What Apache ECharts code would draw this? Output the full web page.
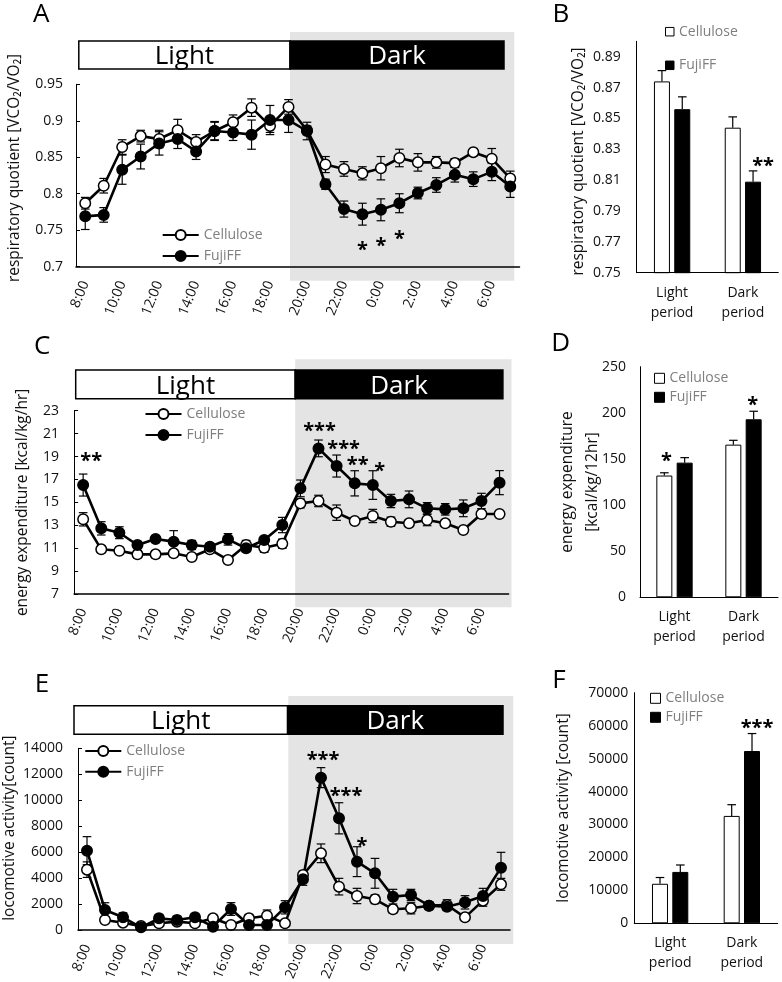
<!DOCTYPE html>
<html>
<head>
<meta charset="utf-8">
<script src="https://cdn.jsdelivr.net/npm/echarts@6/dist/echarts.min.js"></script>
<style>html,body{margin:0;padding:0;background:#fff}#c{width:782px;height:982px}</style>
</head>
<body>
<div id="c"></div>
<script>
// ---------------- data ----------------
const hours = ['8:00','9:00','10:00','11:00','12:00','13:00','14:00','15:00','16:00','17:00','18:00','19:00','20:00','21:00','22:00','23:00','0:00','1:00','2:00','3:00','4:00','5:00','6:00','7:00'];
const periods = ['Light\nperiod','Dark\nperiod'];
const groupNames = ['Cellulose','FujiFF'];

// A: respiratory quotient (hourly)
const rqCellulose    = [0.787,0.811,0.864,0.879,0.875,0.887,0.871,0.886,0.898,0.918,0.893,0.919,0.887,0.840,0.834,0.828,0.835,0.849,0.843,0.843,0.842,0.857,0.848,0.821];
const rqCelluloseErr = [0.008,0.010,0.010,0.008,0.012,0.015,0.010,0.012,0.010,0.012,0.009,0.010,0.006,0.011,0.010,0.009,0.016,0.012,0.012,0.008,0.006,0.005,0.014,0.010];
const rqFuji         = [0.769,0.771,0.833,0.851,0.869,0.875,0.858,0.886,0.884,0.881,0.901,0.901,0.886,0.813,0.779,0.772,0.778,0.787,0.801,0.812,0.826,0.820,0.830,0.810];
const rqFujiErr      = [0.018,0.010,0.020,0.017,0.016,0.013,0.011,0.013,0.011,0.020,0.020,0.017,0.012,0.007,0.011,0.015,0.015,0.013,0.008,0.010,0.010,0.010,0.012,0.015];
const rqStars = [{i:15, v:0.730, t:'*'}, {i:16, v:0.735, t:'*'}, {i:17, v:0.744, t:'*'}];

// B: respiratory quotient (period)
const rqPeriodCellulose    = [0.874, 0.844];
const rqPeriodCelluloseErr = [0.007, 0.007];
const rqPeriodFuji         = [0.856, 0.809];
const rqPeriodFujiErr      = [0.008, 0.007];
const rqPeriodStars = [{i:1, v:0.822, t:'**', s:1}];

// C: energy expenditure (hourly)
const eeCellulose    = [13.52,10.90,10.78,10.46,10.46,10.55,10.23,10.90,9.97,11.28,11.04,11.39,14.91,15.12,14.10,13.37,13.81,13.31,13.17,13.46,13.17,12.59,13.98,13.98];
const eeCelluloseErr = [0.58,0.30,0.30,0.30,0.30,0.30,0.30,0.30,0.30,0.40,0.40,0.40,0.40,0.50,0.67,0.30,0.58,0.40,0.30,0.50,0.30,0.30,0.30,0.30];
const eeFuji         = [16.51,12.73,12.35,11.28,11.80,11.57,11.28,11.13,11.77,10.99,11.71,13.02,16.22,19.71,18.17,16.66,16.51,15.12,15.26,14.48,14.39,14.48,15.12,16.72];
const eeFujiErr      = [0.96,0.58,0.52,0.30,0.30,0.96,0.40,0.30,0.50,0.30,0.30,0.67,0.73,0.73,0.96,1.10,1.25,0.58,0.73,0.50,0.50,0.73,0.67,1.05];
const eeStars = [{i:0, v:18.98, t:'**'}, {i:13, v:21.66, t:'***'}, {i:14, v:20.09, t:'***'}, {i:15, v:18.63, t:'**'}, {i:16, v:18.17, t:'*'}];

// D: energy expenditure (period)
const eePeriodCellulose    = [132, 165.5];
const eePeriodCelluloseErr = [3, 4.7];
const eePeriodFuji         = [146, 193];
const eePeriodFujiErr      = [5.4, 8.7];
const eePeriodStars = [{i:0, v:152.4, t:'*', s:0}, {i:1, v:213.9, t:'*', s:1}];

// E: locomotive activity (hourly)
const laCellulose    = [4650,771,565,300,514,642,514,899,385,899,1104,514,4239,5909,3340,2620,2363,1593,1670,1875,1927,976,2261,3520];
const laCelluloseErr = [600,250,200,150,200,200,200,250,200,300,440,200,300,720,640,590,335,300,430,200,400,200,430,460];
const laFuji         = [6112,1541,977,206,899,771,977,257,1618,385,385,1747,3905,11740,8606,5266,4367,2569,2697,1875,1798,2132,2620,4804];
const laFujiErr      = [1080,560,350,150,300,300,300,150,490,150,200,510,460,770,1200,1150,1150,565,437,300,300,514,590,1180];
const laStars = [{i:13, v:13487, t:'***'}, {i:14, v:10659, t:'***'}, {i:15, v:6805, t:'*'}];

// F: locomotive activity (period)
const laPeriodCellulose    = [12000, 32600];
const laPeriodCelluloseErr = [1900, 3400];
const laPeriodFuji         = [15600, 52300];
const laPeriodFujiErr      = [2100, 5300];
const laPeriodStars = [{i:1, v:60700, t:'***', s:1}];

// --------------- layout / style ---------------
const FONT = "'Open Sans','Noto Sans',sans-serif";
const grids = [
  {left:76,    top:84.3,  width:443.5, height:182.4}, // A
  {left:636.7, top:41.3,  width:141.6, height:231.4}, // B
  {left:74.1,  top:410.7, width:434.5, height:183.3}, // C
  {left:640,   top:366.7, width:138,   height:230.6}, // D
  {left:78,    top:748.3, width:432,   height:181.7}, // E
  {left:634.3, top:692.7, width:143.4, height:230.6}  // F
];
// small horizontal nudges for significance marks (px)
const starNudgeA = [0,0,0];
const starNudgeC = [8,1,7,3,7];
const starNudgeE = [2,7,5];
const starNudgeB = [10];
const starNudgeD = [2,-1];
const starNudgeF = [5];
const BAR_W = 16, BAR_GAP = 0.27;
const barOff = BAR_W/2 + BAR_W*BAR_GAP/2;
const plainNum = v => String(+(+v).toFixed(4));

function hourAxis(g){
  return {gridIndex:g, type:'category', data:hours, boundaryGap:true,
    axisLine:{show:true, onZero:false, lineStyle:{color:'#000', width:1.5}},
    axisTick:{show:false}, splitLine:{show:false},
    axisLabel:{interval:1, rotate:68, fontSize:14, fontFamily:FONT, color:'#111', margin:15}};
}
function periodAxis(g){
  return {gridIndex:g, type:'category', data:periods,
    axisLine:{show:true, onZero:false, lineStyle:{color:'#000', width:1}},
    axisTick:{show:false}, splitLine:{show:false},
    axisLabel:{fontSize:14, fontFamily:FONT, color:'#111', lineHeight:20, margin:10}};
}
function valAxis(g, min, max, step, name, gap, pad, ticks, labMargin){
  return {gridIndex:g, type:'value', min, max, interval:step,
    splitLine:{show:false},
    axisLine:{show:true, lineStyle:{color:'#000', width:1}},
    axisTick:{show:ticks, inside:true, length:4, lineStyle:{color:'#000'}},
    axisLabel:{fontSize:14, fontFamily:FONT, color:'#111', margin:labMargin, formatter:plainNum},
    name, nameLocation:'middle', nameGap:gap, nameMoveOverlap:false,
    nameTextStyle:{fontSize:15.5, fontFamily:FONT, color:'#111', padding:pad, lineHeight:25}};
}

function errSeries(ax, vals, errs, offset, both){
  return {type:'custom', xAxisIndex:ax, yAxisIndex:ax, z:1, silent:true, clip:false,
    encode:{x:0, y:1},
    data: vals.map((v,i)=>[i, v, errs[i]]),
    renderItem(p, api){
      const c = api.value(0), v = api.value(1), e = api.value(2);
      const t = api.coord([c, v+e]);
      const b = api.coord([c, both ? v-e : v]);
      const x = t[0] + offset, w = 4.3;
      const st = {stroke:'#000', lineWidth:1.2};
      const ch = [
        {type:'line', shape:{x1:x, y1:t[1], x2:x, y2:b[1]}, style:st},
        {type:'line', shape:{x1:x-w, y1:t[1], x2:x+w, y2:t[1]}, style:st}
      ];
      if (both) ch.push({type:'line', shape:{x1:x-w, y1:b[1], x2:x+w, y2:b[1]}, style:st});
      return {type:'group', children:ch};
    }};
}
function starSeries(ax, stars, nudges){
  return {type:'custom', xAxisIndex:ax, yAxisIndex:ax, z:6, silent:true, clip:false,
    encode:{x:0, y:1},
    data: stars.map(s=>[s.i, s.v]),
    renderItem(p, api){
      const s = stars[p.dataIndex];
      const pt = api.coord([api.value(0), api.value(1)]);
      let dx = nudges[p.dataIndex] || 0;
      if (s.s !== undefined) dx += (s.s === 0 ? -barOff : barOff);
      return {type:'text', x:pt[0]+dx, y:pt[1]+5,
        style:{text:s.t, fontSize:20, fontWeight:'bold', fontFamily:FONT, fill:'#000', align:'center', verticalAlign:'middle'}};
    }};
}
function lineSeries(ax, name, vals, filled){
  return {type:'line', name, xAxisIndex:ax, yAxisIndex:ax, data:vals, z:3,
    symbol:'circle', symbolSize:10.5, showSymbol:true,
    lineStyle:{color:'#000', width:2.6},
    itemStyle:{color: filled ? '#000' : '#fff', borderColor:'#000', borderWidth:1.5},
    emphasis:{disabled:true}};
}
function barSeries(ax, name, vals, filled){
  return {type:'bar', name, xAxisIndex:ax, yAxisIndex:ax, data:vals, z:3,
    barWidth:BAR_W, barGap:(BAR_GAP*100)+'%',
    itemStyle:{color: filled ? '#000' : '#fff', borderColor:'#000', borderWidth:1},
    emphasis:{disabled:true}};
}
function lineLegend(left, top, gap){
  return {left, top, padding:0, orient:'vertical', itemWidth:36, itemHeight:12.5, itemGap:gap,
    textStyle:{color:'#7f7f7f', fontSize:14, fontFamily:FONT}, selectedMode:false,
    data: groupNames.slice()};
}
function barLegend(left, top, gap, size){
  return {left, top, padding:0, orient:'vertical', itemWidth:size, itemHeight:size, itemGap:gap,
    textStyle:{color:'#7f7f7f', fontSize:14, fontFamily:FONT}, selectedMode:false,
    data:[{name:groupNames[0], icon:'rect', itemStyle:{color:'#fff', borderColor:'#000', borderWidth:1}},
          {name:groupNames[1], icon:'rect', itemStyle:{color:'#000', borderColor:'#000', borderWidth:1}}]};
}

// Light/Dark header bars and dark-phase shading (decoration)
function phaseGraphics(sx0, sx1, sy0, sy1, bx0, bxm, bx1, by0, by1){
  return [
    {type:'rect', z:-10, silent:true, shape:{x:sx0, y:sy0, width:sx1-sx0, height:sy1-sy0}, style:{fill:'#e4e4e4'}},
    {type:'rect', z:10, silent:true, shape:{x:bx0, y:by0, width:bxm-bx0, height:by1-by0}, style:{fill:'#fff', stroke:'#000', lineWidth:1.5}},
    {type:'rect', z:10, silent:true, shape:{x:bxm, y:by0, width:bx1-bxm, height:by1-by0}, style:{fill:'#000', stroke:'#000', lineWidth:1.5}},
    {type:'text', z:11, silent:true, x:(bx0+bxm)/2, y:(by0+by1)/2+2, style:{text:'Light', fontSize:26, fontFamily:FONT, fill:'#000', align:'center', verticalAlign:'middle'}},
    {type:'text', z:11, silent:true, x:(bxm+bx1)/2, y:(by0+by1)/2+2, style:{text:'Dark', fontSize:26, fontFamily:FONT, fill:'#fff', align:'center', verticalAlign:'middle'}}
  ];
}
function letter(t, x, y){
  return {type:'text', z:11, silent:true, x, y, style:{text:t, fontSize:26, fontFamily:FONT, fill:'#000', align:'center', verticalAlign:'middle'}};
}

const rqName = 'respiratory quotient [VCO\u2082/VO\u2082]';

const option = {
  animation:false,
  backgroundColor:'#fff',
  textStyle:{fontFamily:FONT},
  grid: grids.map(g=>Object.assign({containLabel:false, outerBoundsMode:'none'}, g)),
  xAxis:[hourAxis(0), periodAxis(1), hourAxis(2), periodAxis(3), hourAxis(4), periodAxis(5)],
  yAxis:[
    valAxis(0, 0.7, 0.95, 0.05, rqName, 49, [0,0,0,15], true, 13),
    valAxis(1, 0.75, 0.9, 0.02, rqName, 46, [0,9,0,0], false, 16),
    valAxis(2, 7, 23, 2, 'energy expenditure [kcal/kg/hr]', 39, [0,0,0,0], true, 15),
    valAxis(3, 0, 250, 50, 'energy expenditure\n[kcal/kg/12hr]', 34.5, [0,0,0,0], false, 14),
    valAxis(4, 0, 14000, 2000, 'locomotive activity[count]', 56, [0,0,0,22], true, 15),
    valAxis(5, 0, 70000, 10000, 'locomotive activity [count]', 58.5, [0,0,0,0], false, 6)
  ],
  legend:[
    lineLegend(161.7, 228, 7),
    barLegend(665, 24.7, 19.6, 8.5),
    lineLegend(144.5, 407, 7),
    barLegend(654, 371.3, 5, 10),
    lineLegend(84.3, 744, 6.7),
    barLegend(650, 691.3, 5, 10)
  ],
  series:[
    lineSeries(0, groupNames[0], rqCellulose, false),
    lineSeries(0, groupNames[1], rqFuji, true),
    errSeries(0, rqCellulose, rqCelluloseErr, 0, true),
    errSeries(0, rqFuji, rqFujiErr, 0, true),
    starSeries(0, rqStars, starNudgeA),

    lineSeries(2, groupNames[0], eeCellulose, false),
    lineSeries(2, groupNames[1], eeFuji, true),
    errSeries(2, eeCellulose, eeCelluloseErr, 0, true),
    errSeries(2, eeFuji, eeFujiErr, 0, true),
    starSeries(2, eeStars, starNudgeC),

    lineSeries(4, groupNames[0], laCellulose, false),
    lineSeries(4, groupNames[1], laFuji, true),
    errSeries(4, laCellulose, laCelluloseErr, 0, true),
    errSeries(4, laFuji, laFujiErr, 0, true),
    starSeries(4, laStars, starNudgeE),

    barSeries(1, groupNames[0], rqPeriodCellulose, false),
    barSeries(1, groupNames[1], rqPeriodFuji, true),
    errSeries(1, rqPeriodCellulose, rqPeriodCelluloseErr, -barOff, false),
    errSeries(1, rqPeriodFuji, rqPeriodFujiErr, barOff, false),
    starSeries(1, rqPeriodStars, starNudgeB),

    barSeries(3, groupNames[0], eePeriodCellulose, false),
    barSeries(3, groupNames[1], eePeriodFuji, true),
    errSeries(3, eePeriodCellulose, eePeriodCelluloseErr, -barOff, false),
    errSeries(3, eePeriodFuji, eePeriodFujiErr, barOff, false),
    starSeries(3, eePeriodStars, starNudgeD),

    barSeries(5, groupNames[0], laPeriodCellulose, false),
    barSeries(5, groupNames[1], laPeriodFuji, true),
    errSeries(5, laPeriodCellulose, laPeriodCelluloseErr, -barOff, false),
    errSeries(5, laPeriodFuji, laPeriodFujiErr, barOff, false),
    starSeries(5, laPeriodStars, starNudgeF)
  ],
  graphic:[].concat(
    phaseGraphics(290, 514.3, 32, 280.7, 78.8, 290, 504, 41, 69),
    phaseGraphics(295.2, 511.5, 359.3, 607.3, 75.7, 295.2, 502.9, 370, 398.7),
    phaseGraphics(288.3, 513.2, 696, 944, 74, 287.6, 503, 705.7, 734.3),
    [letter('A', 41.3, 15), letter('B', 560.8, 15), letter('C', 42.2, 346.5),
     letter('D', 560.8, 344), letter('E', 42, 684.5), letter('F', 559, 680.5)]
  )
};
option.xAxis.forEach(a=>a.z = 5);
option.yAxis.forEach(a=>{ a.z = 5; a.axisLabel.showMaxLabel = (a.gridIndex !== 1); });

const chart = echarts.init(document.getElementById('c'), null, {renderer:'canvas'});
chart.setOption(option);
</script>
</body>
</html>
